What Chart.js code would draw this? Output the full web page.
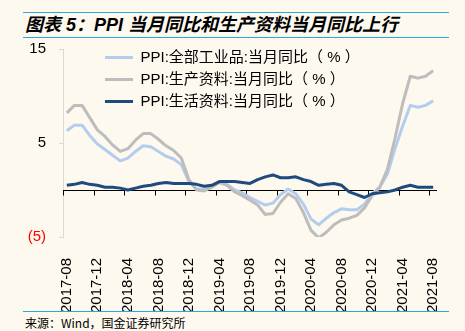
<!DOCTYPE html>
<html lang="zh">
<head>
<meta charset="UTF-8">
<title>PPI 当月同比和生产资料当月同比上行</title>
<script src="https://cdn.jsdelivr.net/npm/chart.js"></script>
<style>
  html, body { margin: 0; padding: 0; background: #fdf9ee; }
  .page { position: relative; width: 465px; height: 331px; background: #fdf9ee; overflow: hidden; }
  .title {
    position: absolute; left: 23px; top: 12px; width: 424px; height: 24px;
    border-top: 1.5px solid #29a8e0; border-bottom: 1.5px solid #29a8e0;
    font: italic bold 18px "Liberation Sans", "Noto Sans CJK SC", sans-serif;
    line-height: 24px; padding-left: 2px; color: #000; white-space: nowrap;
  }
  .source {
    position: absolute; left: 23px; top: 311px; width: 424px; height: 20px;
    border-top: 1.5px solid #29a8e0;
    font: 12px "Noto Sans CJK SC", sans-serif; line-height: 22px;
    padding-left: 2px; color: #000; white-space: nowrap;
  }
  #ppiChart { position: absolute; left: 0; top: 38px; }
</style>
</head>
<body>
<div class="page">
  <div class="title">图表 5：PPI 当月同比和生产资料当月同比上行</div>
  <canvas id="ppiChart" width="465" height="273"></canvas>
  <div class="source">来源：Wind，国金证券研究所</div>
</div>
<script>
const months = [
  '2017-08', '2017-09', '2017-10', '2017-11', '2017-12',
  '2018-01', '2018-02', '2018-03', '2018-04', '2018-05', '2018-06',
  '2018-07', '2018-08', '2018-09', '2018-10', '2018-11', '2018-12',
  '2019-01', '2019-02', '2019-03', '2019-04', '2019-05', '2019-06',
  '2019-07', '2019-08', '2019-09', '2019-10', '2019-11', '2019-12',
  '2020-01', '2020-02', '2020-03', '2020-04', '2020-05', '2020-06',
  '2020-07', '2020-08', '2020-09', '2020-10', '2020-11', '2020-12',
  '2021-01', '2021-02', '2021-03', '2021-04', '2021-05', '2021-06',
  '2021-07', '2021-08'
];

// PPI:全部工业品:当月同比(%)
const ppiAll = [
  6.3, 6.9, 6.9, 5.8, 4.9,
  4.3, 3.7, 3.1, 3.4, 4.1, 4.7,
  4.6, 4.1, 3.6, 3.3, 2.7, 0.9,
  0.1, 0.1, 0.4, 0.9, 0.6, 0.0,
  -0.3, -0.8, -1.2, -1.6, -1.4, -0.5,
  0.1, -0.4, -1.5, -3.1, -3.7, -3.0,
  -2.4, -2.0, -2.1, -2.1, -1.5, -0.4,
  0.3, 1.7, 4.4, 6.8, 9.0, 8.8,
  9.0, 9.5
];

// PPI:生产资料:当月同比(%)
const ppiProducer = [
  8.2, 9.0, 9.0, 7.7, 6.4,
  5.7, 4.8, 4.1, 4.4, 5.3, 6.0,
  6.0, 5.4, 4.7, 4.2, 3.4, 1.1,
  0.0, -0.1, 0.3, 0.8, 0.5, -0.2,
  -0.6, -1.1, -1.6, -2.6, -2.5, -1.3,
  -0.4, -0.9, -2.4, -4.3, -5.1, -4.5,
  -3.7, -3.2, -3.0, -2.7, -1.9, -0.6,
  0.3, 2.2, 5.5, 9.2, 12.1, 11.9,
  12.1, 12.7
];

// PPI:生活资料:当月同比(%)
const ppiConsumer = [
  0.5, 0.6, 0.8, 0.6, 0.5,
  0.3, 0.3, 0.2, 0.0, 0.2, 0.4,
  0.5, 0.7, 0.8, 0.7, 0.7, 0.7,
  0.6, 0.4, 0.5, 0.9, 0.9, 0.9,
  0.8, 0.7, 1.1, 1.4, 1.6, 1.3,
  1.3, 1.4, 1.1, 0.9, 0.5, 0.6,
  0.7, 0.5, -0.2, -0.5, -0.8, -0.4,
  -0.3, -0.2, 0.0, 0.3, 0.5, 0.3,
  0.3, 0.3
];

const yTicks = [-5, 5, 15];

// horizontal axis drawn through zero, with tick marks every 4 months
const zeroAxis = {
  id: 'zeroAxis',
  beforeDatasetsDraw(chart) {
    const { ctx, chartArea, scales: { x, y } } = chart;
    const y0 = Math.round(y.getPixelForValue(0)) + 0.5;
    const half = (x.getPixelForValue(1) - x.getPixelForValue(0)) / 2;
    ctx.save();
    ctx.strokeStyle = '#000';
    ctx.lineWidth = 1;
    ctx.beginPath();
    ctx.moveTo(chartArea.left, y0);
    ctx.lineTo(chartArea.right, y0);
    months.forEach((m, i) => {
      if (i % 4) return;
      const tx = Math.round(x.getPixelForValue(i) - half) + 0.5;
      ctx.moveTo(tx, y0);
      ctx.lineTo(tx, y0 + 5);
    });
    ctx.stroke();
    ctx.restore();
  }
};

// put the legend inside the plot, near the top left
const legendSpot = {
  id: 'legendSpot',
  afterLayout(chart) {
    const lg = chart.legend;
    lg.left = chart.chartArea.left + 35;
    lg.top = chart.chartArea.top - 6;
  }
};

const ctx = document.getElementById('ppiChart').getContext('2d');
const ppiChart = new Chart(ctx, {
  type: 'line',
  data: {
    labels: months,
    datasets: [
      {
        label: 'PPI:全部工业品:当月同比（ % ）',
        data: ppiAll,
        borderColor: '#b4cdee',
        backgroundColor: '#b4cdee',
        borderWidth: 3,
        order: 2
      },
      {
        label: 'PPI:生产资料:当月同比（ % ）',
        data: ppiProducer,
        borderColor: '#bdbdbd',
        backgroundColor: '#bdbdbd',
        borderWidth: 3,
        order: 1
      },
      {
        label: 'PPI:生活资料:当月同比（ % ）',
        data: ppiConsumer,
        borderColor: '#1f4a80',
        backgroundColor: '#1f4a80',
        borderWidth: 3,
        order: 0
      }
    ]
  },
  options: {
    responsive: false,
    animation: false,
    devicePixelRatio: 1,
    layout: { padding: { left: 0, right: 28, top: 11, bottom: 0 } },
    elements: {
      point: { radius: 0, hoverRadius: 0 },
      line: { tension: 0, borderJoinStyle: 'round' }
    },
    plugins: {
      tooltip: { enabled: false },
      legend: {
        position: 'chartArea',
        align: 'start',
        labels: {
          usePointStyle: true,
          pointStyle: 'line',
          pointStyleWidth: 28,
          padding: 7,
          color: '#000',
          font: { family: '"Liberation Sans", "Noto Sans CJK SC", sans-serif', size: 15 },
          sort: (a, b) => a.datasetIndex - b.datasetIndex
        }
      }
    },
    scales: {
      x: {
        offset: true,
        grid: { display: false },
        border: { display: false },
        ticks: {
          autoSkip: false,
          maxRotation: 90,
          minRotation: 90,
          padding: 13,
          color: '#000',
          font: { family: '"Liberation Sans", sans-serif', size: 15 },
          callback: (v, i) => (i % 4 === 0 ? months[i] : '')
        },
        afterFit: (s) => { s.height = 74; }
      },
      y: {
        min: -5,
        max: 15,
        afterBuildTicks: (s) => { s.ticks = yTicks.map(v => ({ value: v })); },
        grid: { drawOnChartArea: false, color: '#d9d9d9', tickLength: 4 },
        border: { display: true, color: '#d9d9d9' },
        ticks: {
          padding: 13,
          color: (c) => (c.tick.value < 0 ? '#ff0000' : '#000'),
          font: { family: '"Liberation Sans", sans-serif', size: 15 },
          callback: (v) => (v < 0 ? '(' + Math.abs(v) + ')' : String(v))
        },
        afterFit: (s) => {
          s.width = 63;
          s.paddingTop = 0;
          s.paddingBottom = 0;
        }
      }
    }
  },
  plugins: [zeroAxis, legendSpot]
});
</script>
</body>
</html>
